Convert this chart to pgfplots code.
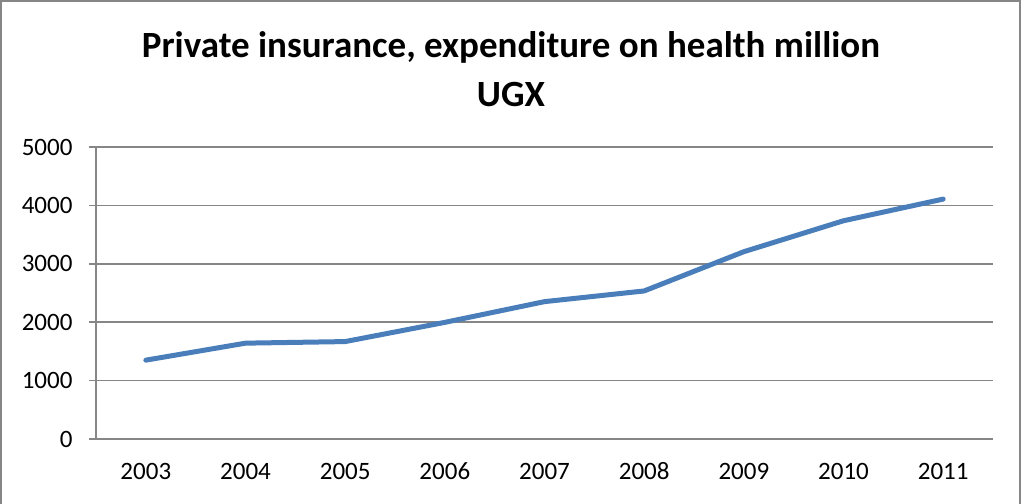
\documentclass[border=0pt]{standalone}
\usepackage{pgfplots}
\pgfplotsset{compat=1.18}
\usepackage{fontspec}
\setmainfont{Carlito}
\definecolor{gridgray}{HTML}{868686}
\definecolor{lineblue}{HTML}{4A7EBB}
\begin{document}
\begin{tikzpicture}[x=1bp,y=1bp]
\useasboundingbox (0,0) rectangle (1023,504);
\draw[gridgray, line width=1.5bp] (1,-10) -- (1,503) -- (1020,503) -- (1020,-10);
\node[font=\fontsize{37bp}{44bp}\selectfont\bfseries, align=center] at (511,457) {Private insurance, expenditure on health million};
\node[font=\fontsize{37bp}{44bp}\selectfont\bfseries, align=center] at (511,409) {UGX};
\begin{axis}[
  at={(96bp,65bp)}, anchor=south west,
  scale only axis, width=897bp, height=292bp,
  xmin=-0.5, xmax=8.5, ymin=0, ymax=5000,
  axis x line*=bottom, axis y line*=left,
  axis line style={draw=gridgray, line width=1.5bp, -},
  xtick={0,...,8},
  xticklabels={2003,2004,2005,2006,2007,2008,2009,2010,2011},
  x tick style={draw=none},
  extra x ticks={-0.5,0.5,...,8.5},
  extra x tick labels={},
  extra x tick style={tick style={draw=gridgray, line width=1.5bp}, major tick length=8bp, tick align=outside, grid=none},
  ytick={0,1000,...,5000},
  y tick style={draw=gridgray, line width=1.5bp},
  major tick length=7bp, tick align=outside,
  ymajorgrids, grid style={draw=gridgray, line width=1.5bp},
  /pgf/number format/assume math mode=true,
  /pgf/number format/set thousands separator={},
  tick label style={font=\fontsize{25bp}{30bp}\selectfont, text=black},
  yticklabel style={xshift=-13bp},
  xticklabel style={yshift=-13bp, text height=17bp, text depth=0bp},
]
\addplot[lineblue, line width=5bp, line join=round, line cap=round] coordinates {
(0,1350) (1,1641) (2,1668) (3,1997) (4,2352) (5,2535) (6,3207) (7,3737) (8,4108)
};
\end{axis}
\end{tikzpicture}
\end{document}
